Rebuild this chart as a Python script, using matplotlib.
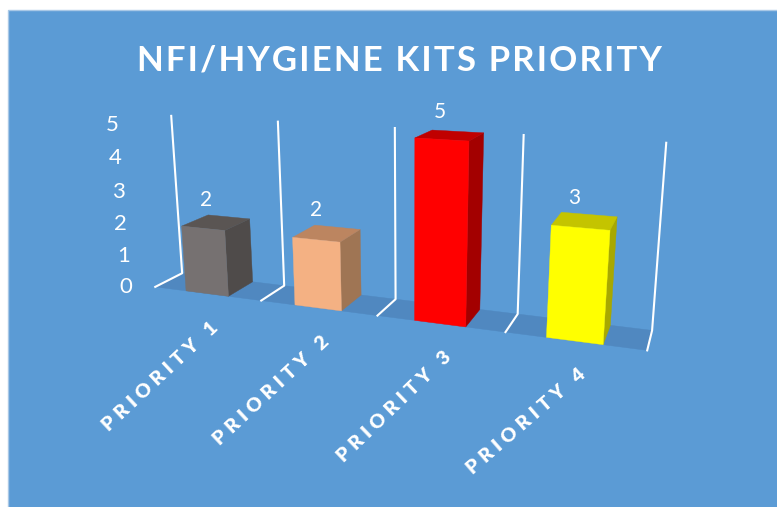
import numpy as np
import matplotlib
matplotlib.use("Agg")
import matplotlib.pyplot as plt
from matplotlib.patches import Polygon, Rectangle

categories = ["PRIORITY 1", "PRIORITY 2", "PRIORITY 3", "PRIORITY 4"]
values = [2, 2, 5, 3]
value_ticks = [0, 1, 2, 3, 4, 5]
title = "NFI/HYGIENE KITS PRIORITY"

front_colours = ["#767171", "#F4B183", "#FF0000", "#FFFF00"]
side_colours = ["#4F4B4A", "#9F7554", "#A30000", "#A8A800"]
top_colours = ["#5A5553", "#BC8560", "#C00000", "#C4C400"]
label_angles = [43, 43, 44, 41]

BG = "#5B9BD5"
FLOOR = "#5088C0"
HAIR = "\u200a"
QUARTER = "\u2005"

# picture positions of known chart corners: (category, depth, value) -> (px, py)
world_refs = [
    (0, 0, 0), (0, 1, 0), (0, 1, 5),
    (1, 0, 0), (1, 1, 0), (1, 1, 5),
    (2, 0, 0), (2, 1, 0), (2, 1, 5),
    (3, 0, 0), (3, 1, 0), (3, 1, 5),
    (4, 0, 0), (4, 1, 0), (4, 1, 5),
    (0.3, 0, 2), (1.3, 0, 2), (2.3, 0, 5), (3.3, 0, 3),
    (0.7, 1, 2), (1.7, 1, 2), (2.7, 1, 5), (3.7, 1, 3),
]
pixel_refs = [
    (155, 287), (182, 273), (171, 116),
    (261, 301), (285, 285), (278, 122),
    (377, 316), (396, 299), (395, 128),
    (505, 332), (518, 313), (524, 135),
    (647, 350), (652, 332), (666, 142),
    (182, 226), (293, 237), (415, 138), (552, 225),
    (249, 219), (360, 230), (483, 133), (617, 217),
]


def fit_camera(world, pixels):
    rows, rhs = [], []
    for (x, y, z), (u, v) in zip(world, pixels):
        rows.append([x, y, z, 1, 0, 0, 0, 0, -u * x, -u * y, -u * z])
        rows.append([0, 0, 0, 0, x, y, z, 1, -v * x, -v * y, -v * z])
        rhs += [u, v]
    sol = np.linalg.lstsq(np.array(rows, float), np.array(rhs, float), rcond=None)[0]
    return np.append(sol, 1).reshape(3, 4)


camera = fit_camera(world_refs, pixel_refs)


def project(x, y, z):
    u, v, w = camera @ np.array([x, y, z, 1.0])
    return u / w, v / w


def face(points, colour, zorder):
    ax.add_patch(Polygon([project(*p) for p in points], closed=True, facecolor=colour,
                         edgecolor=colour, linewidth=0.3, zorder=zorder))


plt.rcParams["font.family"] = ["Lato", "DejaVu Sans"]

fig = plt.figure(figsize=(7.77, 5.07), dpi=100)
ax = fig.add_axes([0, 0, 1, 1])
ax.set_xlim(0, 777)
ax.set_ylim(507, 0)
ax.axis("off")

ax.add_patch(Rectangle((8, 10), 770, 498, facecolor=BG, edgecolor="#A9C8E6", linewidth=1))

n = len(categories)
face([(0, 0, 0), (n, 0, 0), (n, 1, 0), (0, 1, 0)], FLOOR, 1)

# wall dividers
top = max(value_ticks)
for i in range(n + 1):
    pts = [project(i, 1, top), project(i, 1, 0), project(i, 0, 0)]
    ax.plot(*zip(*pts), color="white", lw=1.5, zorder=2, solid_joinstyle="round")

for i, val in enumerate(values):
    x0, x1 = i + 0.3, i + 0.7
    face([(x1, 0, 0), (x1, 1, 0), (x1, 1, val), (x1, 0, val)], side_colours[i], 3)
    face([(x0, 0, val), (x1, 0, val), (x1, 1, val), (x0, 1, val)], top_colours[i], 3)
    face([(x0, 0, 0), (x1, 0, 0), (x1, 0, val), (x0, 0, val)], front_colours[i], 4)

    ax.annotate(str(val), project(i + 0.5, 0.5, val), xytext=(-7.5, 16.5),
                textcoords="offset points", ha="center", va="center",
                color="white", fontsize=15, zorder=5)
    ax.annotate(QUARTER.join(categories[i]), project(i + 0.5, 0, 0), xytext=(2, -18),
                textcoords="offset points", ha="right", va="top",
                rotation=label_angles[i], rotation_mode="anchor",
                color="white", fontsize=14, fontweight=800, zorder=5)

for tick in value_ticks:
    ax.text(*np.add(project(-0.27, 0, tick), (-2, 4)), str(tick), ha="center", va="center",
            color="white", fontsize=16)

ax.text(399, 60, HAIR.join(title), ha="center", va="center", color="white",
        fontsize=25, fontweight="bold")

fig.savefig("out.png", dpi=100)
